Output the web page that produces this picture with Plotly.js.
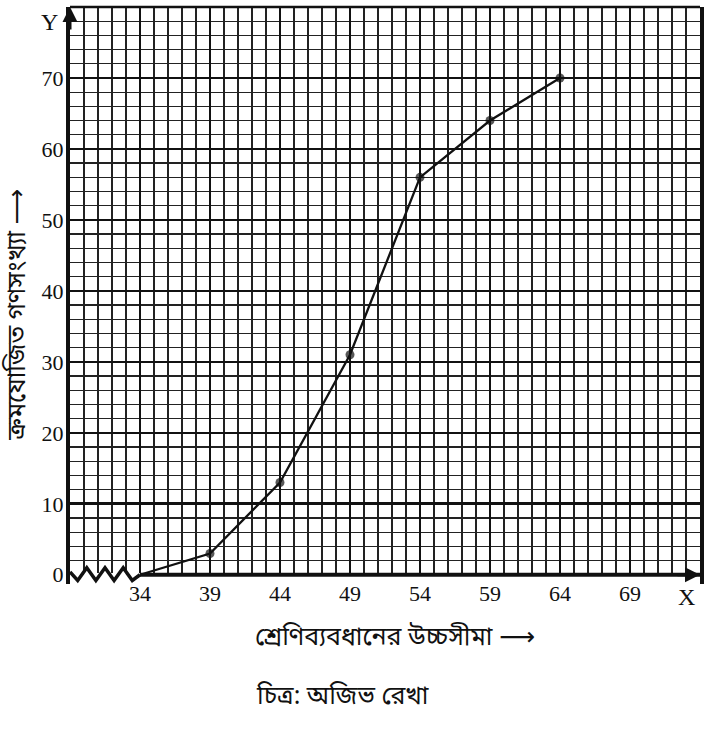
<!DOCTYPE html>
<html>
<head>
<meta charset="utf-8">
<script src="https://cdn.plot.ly/plotly-3.0.1.min.js"></script>
<style>
  html, body { margin: 0; padding: 0; background: #fff; }
  #chart { width: 708px; height: 729px; }
</style>
</head>
<body>
<div id="chart"></div>
<script>
// upper class limits and cumulative frequencies
const upperLimits = [34, 39, 44, 49, 54, 59, 64];
const cumFreq = [0, 3, 13, 31, 56, 64, 70];

const xTickVals = [34, 39, 44, 49, 54, 59, 64, 69];
const yTickVals = [0, 10, 20, 30, 40, 50, 60, 70];

// broken-axis zigzag between origin and 34
const breakX = [29, 29.55, 30.2, 30.85, 31.5, 32.15, 32.8, 33.45, 34];
const breakY = [0.4, -0.8, 1.0, -0.8, 1.0, -0.8, 1.0, -0.8, 0];

const xRange = [29, 74];
const yRange = [-1.3, 80];

const longArrow = '<span style="font-family:DejaVu Sans">⟶</span>';
const xTitle = 'শ্রেণিব্যবধানের উচ্চসীমা ' + longArrow;
const yTitle = 'ক্রমযোজিত গণসংখ্যা ' + longArrow;
const caption = 'চিত্র: অজিভ রেখা';

function plotChart() {
    const ink = '#111';
    const serif = '"Liberation Serif", "DejaVu Serif", serif';
    const bangla = '"Noto Sans Bengali", "Noto Serif Bengali", "Lohit Bengali", "Noto Sans", sans-serif';

    let ogive = {
        mode: 'lines+markers',
        x: upperLimits,
        y: cumFreq,
        line: { color: ink, width: 2.3 },
        marker: { color: ink, size: upperLimits.map((v, i) => i === 0 ? 0 : 9), line: { width: 0 } },
        cliponaxis: false,
        hoverinfo: 'x+y'
    };

    let zigzag = {
        mode: 'lines',
        x: breakX,
        y: breakY,
        line: { color: ink, width: 3.5 },
        cliponaxis: false,
        hoverinfo: 'skip'
    };

    // plain centred text in paper coords
    const label = (x, y, text, font, extra) => Object.assign({
        xref: 'paper', yref: 'paper', x: x, y: y, text: text, showarrow: false,
        xanchor: 'center', yanchor: 'middle', font: font
    }, extra || {});

    const layout = {
        width: 708,
        height: 729,
        margin: { l: 70, r: 8, t: 7, b: 145 },
        paper_bgcolor: '#fff',
        plot_bgcolor: '#fff',
        showlegend: false,
        font: { family: serif, color: ink, size: 22 },
        xaxis: {
            range: xRange,
            tickmode: 'array',
            tickvals: xTickVals,
            ticks: '',
            ticklabelstandoff: -6,
            showgrid: true,
            gridcolor: ink,
            gridwidth: 2.6,
            zeroline: false,
            showline: false,
            minor: { tickmode: 'linear', tick0: 29, dtick: 1, showgrid: true, gridcolor: '#222', gridwidth: 1.3 },
            tickfont: { family: serif, size: 22, color: ink },
            fixedrange: true
        },
        yaxis: {
            range: yRange,
            tickmode: 'array',
            tickvals: yTickVals,
            ticks: '',
            ticklabelstandoff: -2,
            showgrid: true,
            gridcolor: ink,
            gridwidth: 2.6,
            zeroline: false,
            showline: true,
            linecolor: ink,
            linewidth: 4,
            mirror: true,
            minor: { tickmode: 'linear', tick0: 0, dtick: 2, showgrid: true, gridcolor: '#222', gridwidth: 1.3 },
            tickfont: { family: serif, size: 22, color: ink },
            fixedrange: true
        },
        shapes: [
            // blank strip under the x axis (break area)
            { type: 'rect', xref: 'x', yref: 'y', x0: xRange[0], x1: xRange[1] + 1, y0: yRange[0] - 1, y1: 0.25,
              fillcolor: '#fff', line: { width: 0 }, layer: 'between' },
            // x axis from the first class limit
            { type: 'line', xref: 'x', yref: 'y', x0: upperLimits[0], x1: xRange[1], y0: 0, y1: 0,
              line: { color: ink, width: 4 } },
            // top border
            { type: 'line', xref: 'paper', yref: 'paper', x0: 0, x1: 1, y0: 1, y1: 1,
              line: { color: ink, width: 2.5 } }
        ],
        annotations: [
            { xref: 'x', yref: 'y', x: xRange[0], y: yRange[1], ax: 0, ay: 24, showarrow: true,
              arrowhead: 2, arrowsize: 1, arrowwidth: 3, arrowcolor: ink, text: '' },
            { xref: 'x', yref: 'y', x: xRange[1], y: 0, ax: -24, ay: 0, showarrow: true,
              arrowhead: 2, arrowsize: 1, arrowwidth: 3, arrowcolor: ink, text: '' },
            label(-0.032, 0.974, 'Y', { family: serif, size: 24, color: ink }),
            label(0.978, -0.0225, 'X', { family: serif, size: 24, color: ink }),
            label(-0.083, 0.466, yTitle, { family: bangla, size: 25, color: ink }, { textangle: -90 }),
            label(0.516, -0.0936, xTitle, { family: bangla, size: 25, color: ink }),
            label(0.433, -0.196, caption, { family: bangla, size: 25, color: ink })
        ]
    };

    Plotly.newPlot('chart', [zigzag, ogive], layout, { displayModeBar: false, staticPlot: true });
}

plotChart();
</script>
</body>
</html>
